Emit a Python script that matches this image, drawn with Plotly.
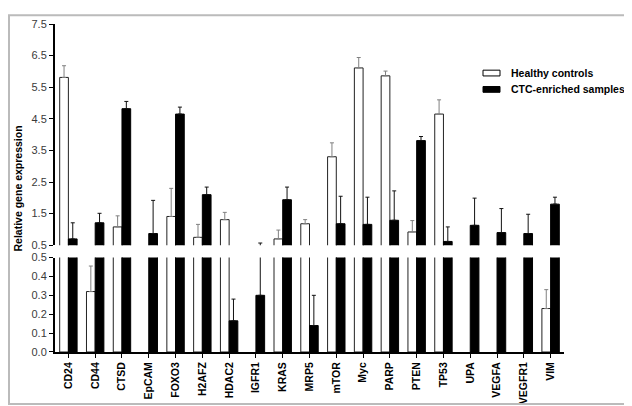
import plotly.graph_objects as go
from plotly.subplots import make_subplots

genes = ['CD24', 'CD44', 'CTSD', 'EpCAM', 'FOXO3', 'H2AFZ', 'HDAC2', 'IGFR1', 'KRAS', 'MRP5',
         'mTOR', 'Myc', 'PARP', 'PTEN', 'TP53', 'UPA', 'VEGFA', 'VEGFR1', 'VIM']

# Healthy controls (None = not detected)
healthy = [5.81, 0.32, 1.08, None, 1.41, 0.75, 1.31, None, 0.70, 1.18,
           3.30, 6.11, 5.86, 0.92, 4.65, None, None, None, 0.23]
healthy_err = [0.37, 0.135, 0.35, None, 0.89, 0.41, 0.23, None, 0.28, 0.13,
               0.44, 0.33, 0.15, 0.36, 0.45, None, None, None, 0.10]

# CTC-enriched samples
ctc = [0.70, 1.21, 4.82, 0.87, 4.65, 2.10, 0.165, 0.30, 1.94, 0.14,
       1.18, 1.16, 1.29, 3.81, 0.62, 1.13, 0.90, 0.87, 1.80]
ctc_err = [0.51, 0.30, 0.23, 1.05, 0.22, 0.24, 0.115, 0.27, 0.40, 0.16,
           0.87, 0.86, 0.93, 0.13, 0.46, 0.86, 0.76, 0.61, 0.22]

series_names = ['Healthy controls', 'CTC-enriched samples']

fig = make_subplots(rows=2, cols=1, shared_xaxes=True, vertical_spacing=0.03)

for row in (1, 2):
    fig.add_trace(
        go.Bar(
            x=genes, y=healthy, name=series_names[0],
            marker=dict(color='white', line=dict(color='#222222', width=1)),
            error_y=dict(type='data', array=healthy_err, symmetric=False,
                         arrayminus=[0] * len(genes), color='#808080',
                         thickness=1, width=2),
            showlegend=False
        ), row=row, col=1)
    fig.add_trace(
        go.Bar(
            x=genes, y=ctc, name=series_names[1],
            marker=dict(color='black', line=dict(color='black', width=1)),
            error_y=dict(type='data', array=ctc_err, symmetric=False,
                         arrayminus=[0] * len(genes), color='#111111',
                         thickness=1, width=2),
            showlegend=False
        ), row=row, col=1)

font_main = 'Arial, Liberation Sans, sans-serif'
tickfont = dict(family=font_main, size=11, color='#3a3a3a')

fig.update_layout(
    width=632, height=406,
    margin=dict(l=47, r=76, t=10, b=55),
    paper_bgcolor='white', plot_bgcolor='white',
    barmode='group', bargap=0.35, bargroupgap=0,
    font=dict(family=font_main, size=11, color='black'),
    showlegend=False,
    xaxis=dict(domain=[0, 1], showticklabels=False, showline=False, ticks='',
               range=[-0.5, 18.5]),
    xaxis2=dict(domain=[0, 1], range=[-0.5, 18.5], showline=True, linecolor='black',
                linewidth=2, ticks='outside', ticklen=4, tickcolor='black',
                tickangle=-90, tickfont=dict(family=font_main, size=10.5, color='black',
                                             weight='bold')),
    yaxis=dict(domain=[0.3255, 1], range=[0.5, 7.5], tickvals=[0.5, 1.5, 2.5, 3.5, 4.5, 5.5, 6.5, 7.5],
               tickformat='.1f', showline=True, linecolor='black', linewidth=2,
               ticks='outside', ticklen=4, tickcolor='black', showgrid=False,
               zeroline=False, tickfont=tickfont),
    yaxis2=dict(domain=[0, 0.288], range=[0, 0.5], dtick=0.1, tickformat='.1f',
                showline=True, linecolor='black', linewidth=2, ticks='outside',
                ticklen=4, tickcolor='black', showgrid=False, zeroline=False,
                tickfont=tickfont),
)

W, H, L, B = 509, 341, 47, 351

fig.add_annotation(
    text='<b>Relative gene expression</b>', textangle=-90,
    xref='paper', yref='paper', x=(10 - L) / W, y=(B - 181) / H,
    xanchor='center', yanchor='middle',
    showarrow=False, font=dict(family=font_main, size=10.5, color='black'))

# legend drawn by hand: flat rectangles like the original
for i, (nm, fill) in enumerate(zip(series_names, ['white', 'black'])):
    cy = 61 + 17 * i
    fig.add_shape(type='rect', xref='paper', yref='paper',
                  x0=(475 - L) / W, x1=(492 - L) / W,
                  y0=(B - cy - 3) / H, y1=(B - cy + 3) / H,
                  fillcolor=fill, line=dict(color='black', width=1))
    fig.add_annotation(text=f'<b>{nm}</b>', xref='paper', yref='paper',
                       x=(501 - L) / W, y=(B - cy) / H, xanchor='left', yanchor='middle',
                       showarrow=False, font=dict(family=font_main, size=10.5, color='black'))

# grey frame round the whole figure
fig.add_shape(type='rect', xref='paper', yref='paper',
              x0=(1 - L) / W, x1=(631 - L) / W,
              y0=(B - 405) / H, y1=(B - 1) / H,
              line=dict(color='#bbbbbb', width=2))

fig.write_html('out.html')
